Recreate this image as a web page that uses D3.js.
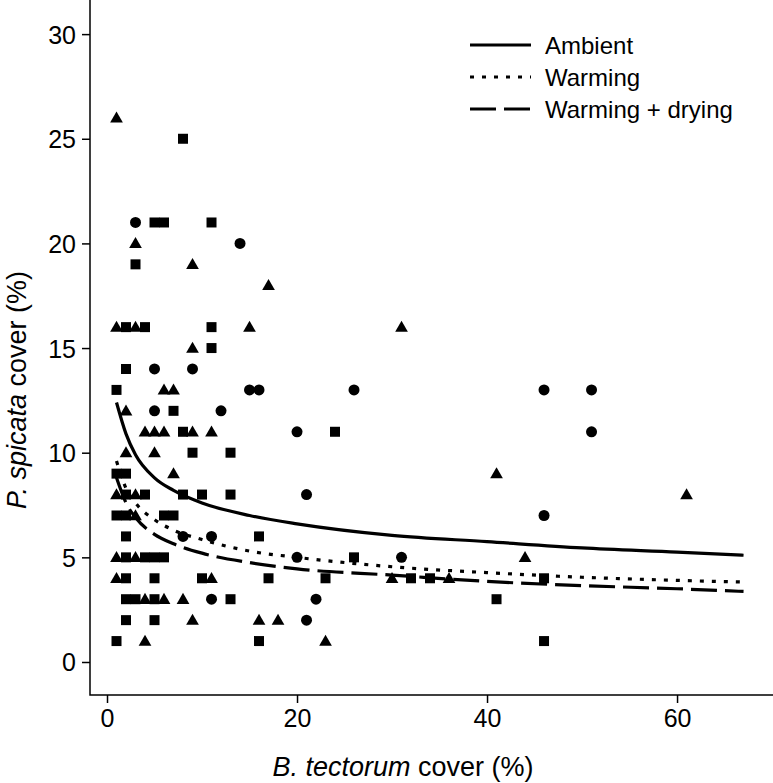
<!DOCTYPE html>
<html>
<head>
<meta charset="utf-8">
<script src="https://cdn.jsdelivr.net/npm/d3@7"></script>
<style>
  html, body { margin: 0; padding: 0; background: #fff; }
  svg { display: block; }
  text { font-family: "Liberation Sans", Arial, Helvetica, sans-serif; fill: #000; }
</style>
</head>
<body>
<svg id="chart" width="773" height="783"></svg>
<script>
// ---- Data ----
const xTicks = [0, 20, 40, 60];
const yTicks = [0, 5, 10, 15, 20, 25, 30];
const seriesNames = ["Ambient", "Warming", "Warming + drying"];

// scatter points: [B. tectorum cover, P. spicata cover]
const trianglePoints = [
  [1,26],[3,20],[9,19],[17,18],[1,16],[3,16],[15,16],[31,16],[9,15],
  [6,13],[7,13],[2,12],[4,11],[5,11],[6,11],[9,11],[11,11],[41,9],
  [2,10],[5,10],[7,9],[1,8],[3,8],[3,7],[1,5],[3,5],[44,5],
  [1,4],[11,4],[30,4],[36,4],[4,3],[6,3],[8,3],[9,2],[16,2],[18,2],
  [4,1],[23,1],[61,8]
];
const squarePoints = [
  [8,25],[5,21],[6,21],[11,21],[3,19],[2,16],[4,16],[11,16],[11,15],
  [2,14],[1,13],[7,12],[8,11],[24,11],[9,10],[13,10],[2,9],[1,9],
  [2,8],[4,8],[8,8],[10,8],[13,8],[1,7],[2,7],[6,7],[7,7],[2,6],[16,6],
  [2,5],[4,5],[5,5],[6,5],[26,5],[2,4],[5,4],[10,4],[17,4],[23,4],
  [32,4],[34,4],[46,4],[2,3],[3,3],[5,3],[13,3],[41,3],[2,2],[5,2],
  [1,1],[16,1],[46,1]
];
const circlePoints = [
  [3,21],[14,20],[5,14],[9,14],[15,13],[16,13],[26,13],[46,13],[51,13],
  [5,12],[12,12],[20,11],[51,11],[21,8],[46,7],[8,6],[11,6],[20,5],
  [31,5],[11,3],[22,3],[21,2]
];

// fitted curves: x and y per series
const curveX        = [1, 2, 3, 5, 7, 10, 15, 20, 30, 40, 50, 60, 67];
const ambientY      = [12.4, 10.9, 9.9, 8.8, 8.2, 7.6, 7.0, 6.6, 6.05, 5.75, 5.45, 5.25, 5.1];
const warmingY      = [9.6, 8.3, 7.6, 6.8, 6.3, 5.85, 5.3, 5.0, 4.55, 4.27, 4.05, 3.9, 3.82];
const warmDryY      = [8.8, 7.6, 6.9, 6.1, 5.65, 5.2, 4.75, 4.45, 4.15, 3.85, 3.65, 3.5, 3.37];

// ---- Chart ----
const plotLeft = 90, plotRight = 773, plotTop = 0, plotBottom = 695;
const svg = d3.select("#chart");

const x = d3.scaleLinear().domain([-1.79, 70.1]).range([plotLeft, plotRight]);
const y = d3.scaleLinear().domain([-1.577, 31.63]).range([plotBottom, plotTop]);

// axes
const xAxis = d3.axisBottom(x).tickValues(xTicks).tickSize(8).tickPadding(6).tickFormat(d3.format("d"));
const yAxis = d3.axisLeft(y).tickValues(yTicks).tickSize(8).tickPadding(6).tickFormat(d3.format("d"));

const gx = svg.append("g").attr("transform", `translate(0,${plotBottom})`).call(xAxis);
const gy = svg.append("g").attr("transform", `translate(${plotLeft},0)`).call(yAxis);
[gx, gy].forEach(g => {
  g.select(".domain").remove();
  g.selectAll(".tick line").attr("stroke", "#000").attr("stroke-width", 1.5);
  g.selectAll(".tick text").attr("font-size", 25).attr("fill", "#000")
    .style("font-family", '"Liberation Sans", Arial, sans-serif');
});
gy.selectAll(".tick text").attr("dy", "0.36em");

// L-shaped frame
svg.append("path")
  .attr("d", `M${plotLeft},${plotTop}V${plotBottom}H${plotRight}`)
  .attr("fill", "none").attr("stroke", "#000").attr("stroke-width", 1.5);

// axis titles
svg.append("text")
  .attr("x", 403).attr("y", 776).attr("text-anchor", "middle").attr("font-size", 27)
  .html('<tspan font-style="italic">B. tectorum</tspan> cover (%)');
svg.append("text")
  .attr("transform", "translate(26,390) rotate(-90)").attr("text-anchor", "middle").attr("font-size", 27)
  .html('<tspan font-style="italic">P. spicata</tspan> cover (%)');

// points
const plot = svg.append("g");
const sq = d3.symbol().type(d3.symbolSquare).size(100);
const tri = d3.symbol().type(d3.symbolTriangle).size(70);
const cir = d3.symbol().type(d3.symbolCircle).size(95);
plot.selectAll("path.sq").data(squarePoints).join("path").attr("class", "sq")
  .attr("d", sq).attr("transform", d => `translate(${x(d[0])},${y(d[1])})`).attr("fill", "#000");
plot.selectAll("path.tri").data(trianglePoints).join("path").attr("class", "tri")
  .attr("d", tri).attr("transform", d => `translate(${x(d[0])},${y(d[1]) + 1})`).attr("fill", "#000");
plot.selectAll("path.cir").data(circlePoints).join("path").attr("class", "cir")
  .attr("d", cir).attr("transform", d => `translate(${x(d[0])},${y(d[1])})`).attr("fill", "#000");

// curves
const dashes = ["none", "4 8", "26 8"];
const curves = [ambientY, warmingY, warmDryY];
const line = d3.line().x(d => x(d[0])).y(d => y(d[1])).curve(d3.curveMonotoneX);
curves.forEach((ys, i) => {
  const pts = curveX.map((xv, j) => [xv, ys[j]]);
  svg.append("path").datum(pts).attr("d", line)
    .attr("fill", "none").attr("stroke", "#000").attr("stroke-width", 3.2)
    .attr("stroke-dasharray", dashes[i] === "none" ? null : dashes[i]);
});

// legend
const leg = svg.append("g");
seriesNames.forEach((name, i) => {
  const yy = 45 + i * 32;
  leg.append("line").attr("x1", 470).attr("x2", 531).attr("y1", yy).attr("y2", yy)
    .attr("stroke", "#000").attr("stroke-width", 3.2)
    .attr("stroke-dasharray", dashes[i] === "none" ? null : dashes[i]);
  leg.append("text").attr("x", 545).attr("y", yy).attr("dy", "0.36em")
    .attr("font-size", 24).text(name);
});
</script>
</body>
</html>
